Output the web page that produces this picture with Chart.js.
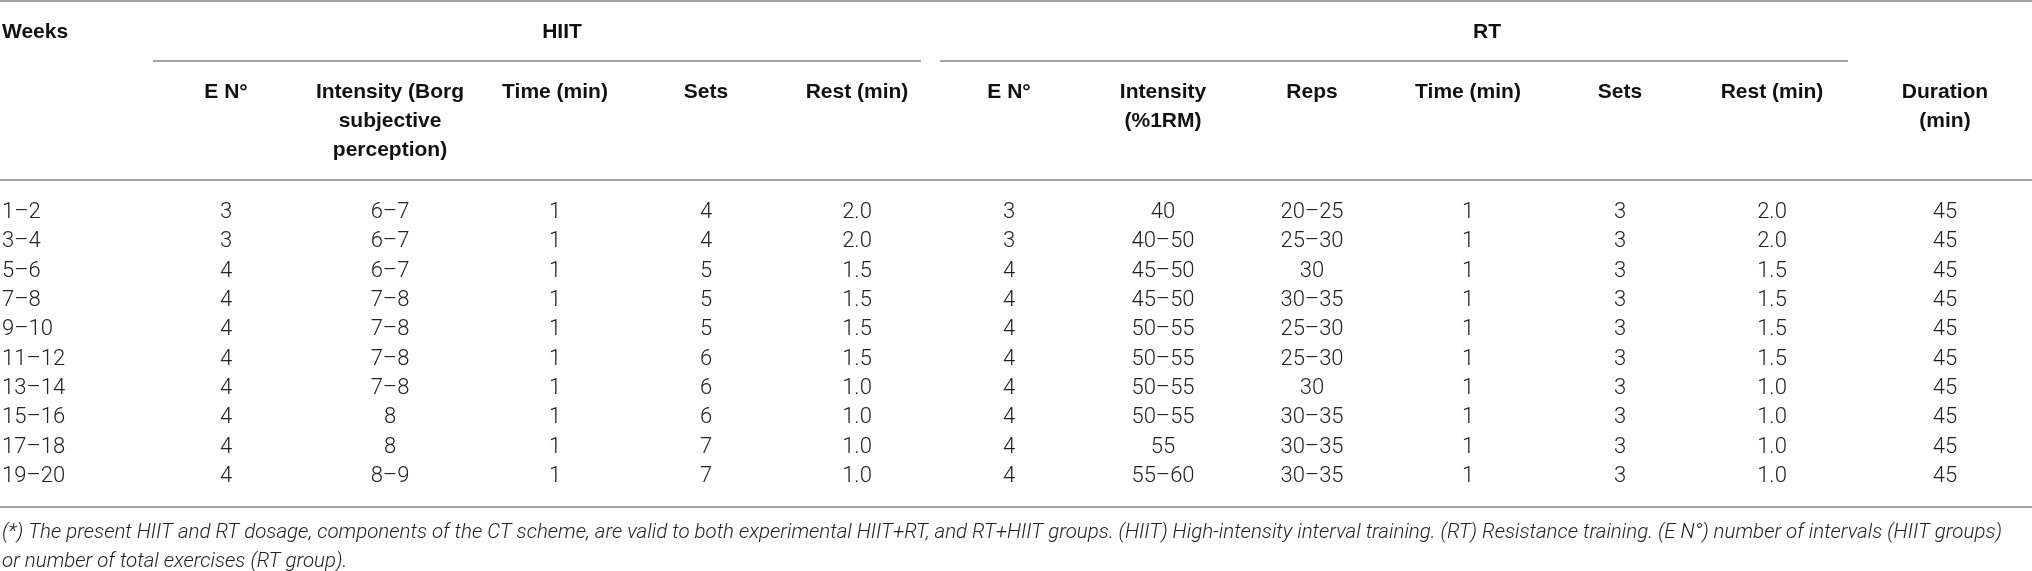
<!DOCTYPE html>
<html>
<head>
<meta charset="utf-8">
<script src="https://cdn.jsdelivr.net/npm/chart.js@4.4.1/dist/chart.umd.min.js"></script>
<style>
  html, body { margin: 0; padding: 0; background: #fff; overflow: hidden; }
  #wrap { width: 2032px; height: 571px; }
</style>
</head>
<body>
<div id="wrap"><canvas id="dosageTable"></canvas></div>
<script>
// Row labels
const weeks = ['1–2', '3–4', '5–6', '7–8', '9–10', '11–12', '13–14', '15–16', '17–18', '19–20'];

// HIIT block
const hiitExercises = [3, 3, 4, 4, 4, 4, 4, 4, 4, 4];
const hiitIntensity = ['6–7', '6–7', '6–7', '7–8', '7–8', '7–8', '7–8', '8', '8', '8–9'];
const hiitTime = [1, 1, 1, 1, 1, 1, 1, 1, 1, 1];
const hiitSets = [4, 4, 5, 5, 5, 6, 6, 6, 7, 7];
const hiitRest = [2.0, 2.0, 1.5, 1.5, 1.5, 1.5, 1.0, 1.0, 1.0, 1.0];

// RT block
const rtExercises = [3, 3, 4, 4, 4, 4, 4, 4, 4, 4];
const rtIntensity = ['40', '40–50', '45–50', '45–50', '50–55', '50–55', '50–55', '50–55', '55', '55–60'];
const rtReps = ['20–25', '25–30', '30', '30–35', '25–30', '25–30', '30', '30–35', '30–35', '30–35'];
const rtTime = [1, 1, 1, 1, 1, 1, 1, 1, 1, 1];
const rtSets = [3, 3, 3, 3, 3, 3, 3, 3, 3, 3];
const rtRest = [2.0, 2.0, 1.5, 1.5, 1.5, 1.5, 1.0, 1.0, 1.0, 1.0];

const duration = [45, 45, 45, 45, 45, 45, 45, 45, 45, 45];

// Header texts
const groupLabels = ['HIIT', 'RT'];
const columnHeaders = [
  ['E N°'], ['Intensity (Borg', 'subjective', 'perception)'], ['Time (min)'], ['Sets'], ['Rest (min)'],
  ['E N°'], ['Intensity', '(%1RM)'], ['Reps'], ['Time (min)'], ['Sets'], ['Rest (min)'],
  ['Duration', '(min)']
];
const footnoteLines = [
  '(*) The present HIIT and RT dosage, components of the CT scheme, are valid to both experimental HIIT+RT, and RT+HIIT groups. (HIIT) High-intensity interval training. (RT) Resistance training. (E N°) number of intervals (HIIT groups)',
  'or number of total exercises (RT group).'
];

// Layout (x in scale units across the page, y in pixels)
const colX = [226, 390, 555, 706, 857, 1009, 1163, 1312, 1468, 1620, 1772, 1945];
const groupSpans = [[153, 921], [940, 1848]];
const groupCenters = [562, 1487];
const headY = { top: 1, title: 32, groupRule: 61, lines: [92, 121, 150], headRule: 180, bottomRule: 507, notes: [533, 562] };

const columns = [
  hiitExercises, hiitIntensity, hiitTime, hiitSets, hiitRest.map(v => v.toFixed(1)),
  rtExercises, rtIntensity, rtReps, rtTime, rtSets, rtRest.map(v => v.toFixed(1)),
  duration
];

const RULE = '#a3a3a3';
const HEAD_FONT = 'bold 21px "Liberation Sans", Arial, sans-serif';
const CELL_FONT = '300 22px Roboto, "Liberation Sans", sans-serif';
const NOTE_FONT_FAMILY = 'Roboto, "Liberation Sans", sans-serif';

// One invisible dataset per column; the plugin writes the cell text at each point
const datasets = [{
  label: 'Weeks',
  data: weeks.map(w => ({ x: 2, y: w })),
  cells: weeks,
  align: 'left'
}].concat(columns.map((col, c) => ({
  label: 'col' + c,
  data: weeks.map(w => ({ x: colX[c], y: w })),
  cells: col.map(String),
  align: 'center'
})));

const tablePlugin = {
  id: 'tablePlugin',
  afterDatasetsDraw(chart) {
    const ctx = chart.ctx;
    const xs = chart.scales.x;
    const W = chart.width;
    ctx.save();

    // rules
    ctx.strokeStyle = RULE;
    ctx.lineWidth = 2;
    const hline = (x0, x1, y) => { ctx.beginPath(); ctx.moveTo(x0, y); ctx.lineTo(x1, y); ctx.stroke(); };
    hline(0, W, headY.top);
    groupSpans.forEach(s => hline(xs.getPixelForValue(s[0]), xs.getPixelForValue(s[1]), headY.groupRule));
    hline(0, W, headY.headRule);
    hline(0, W, headY.bottomRule);

    // header text
    ctx.fillStyle = '#111';
    ctx.font = HEAD_FONT;
    ctx.textBaseline = 'middle';
    ctx.textAlign = 'left';
    ctx.fillText('Weeks', xs.getPixelForValue(2), headY.title);
    ctx.textAlign = 'center';
    groupLabels.forEach((g, i) => ctx.fillText(g, xs.getPixelForValue(groupCenters[i]), headY.title));
    columnHeaders.forEach((lines, c) => {
      lines.forEach((t, k) => ctx.fillText(t, xs.getPixelForValue(colX[c]), headY.lines[k]));
    });

    // body cells
    ctx.fillStyle = '#222';
    ctx.font = CELL_FONT;
    chart.data.datasets.forEach((ds, di) => {
      const meta = chart.getDatasetMeta(di);
      ctx.textAlign = ds.align;
      meta.data.forEach((pt, i) => ctx.fillText(ds.cells[i], pt.x, pt.y));
    });

    // footnote, sized to fit the page width
    let size = 21;
    ctx.font = 'italic 300 ' + size + 'px ' + NOTE_FONT_FAMILY;
    while (ctx.measureText(footnoteLines[0]).width > W - 12 && size > 10) {
      size -= 0.25;
      ctx.font = 'italic 300 ' + size + 'px ' + NOTE_FONT_FAMILY;
    }
    ctx.fillStyle = '#222';
    ctx.textAlign = 'left';
    footnoteLines.forEach((t, k) => ctx.fillText(t, 2, headY.notes[k]));
    ctx.restore();
  }
};

new Chart(document.getElementById('dosageTable'), {
  type: 'scatter',
  data: { labels: weeks, datasets: datasets },
  options: {
    responsive: true,
    maintainAspectRatio: false,
    animation: false,
    devicePixelRatio: 1,
    layout: { padding: { top: 198, bottom: 80, left: 0, right: 0 } },
    elements: { point: { radius: 0, hoverRadius: 0 } },
    plugins: { legend: { display: false }, tooltip: { enabled: false } },
    events: [],
    scales: {
      x: { type: 'linear', min: 0, max: 2032, display: false },
      y: { type: 'category', labels: weeks, offset: true, display: false }
    }
  },
  plugins: [tablePlugin]
});
</script>
</body>
</html>
